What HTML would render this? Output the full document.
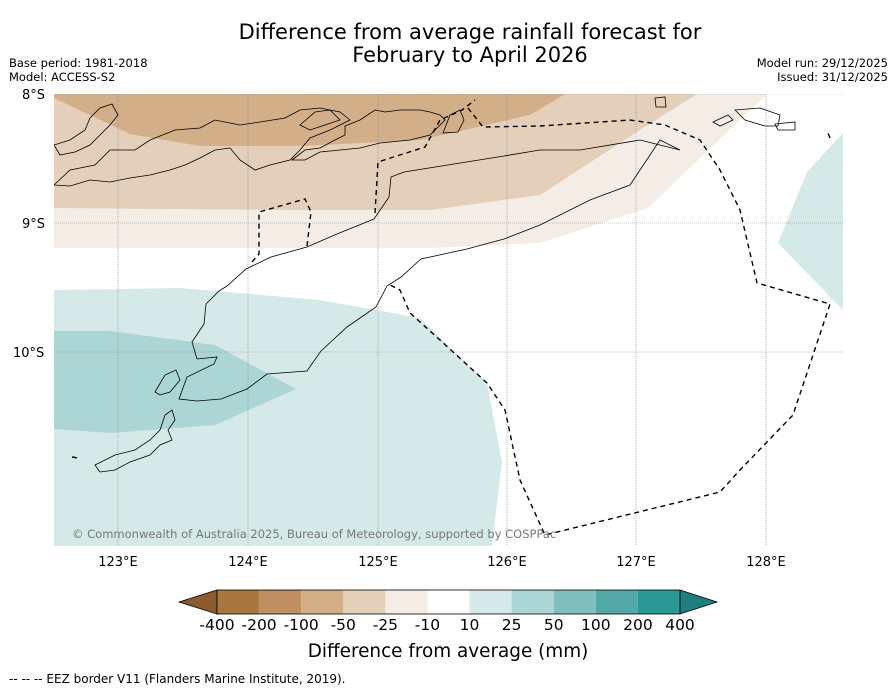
<!DOCTYPE html>
<html><head><meta charset="utf-8"><style>
body{margin:0;background:#fff;}
svg{display:block;font-family:"DejaVu Sans","Liberation Sans",sans-serif;}
</style></head><body>
<svg id="c" width="896" height="690" viewBox="0 0 896 690">
<text x="470" y="39" text-anchor="middle" font-size="21">Difference from average rainfall forecast for</text>
<text x="470" y="62" text-anchor="middle" font-size="21">February to April 2026</text>
<text x="9" y="67" font-size="11.5">Base period: 1981-2018</text>
<text x="9" y="81" font-size="11.5">Model: ACCESS-S2</text>
<text x="888" y="67" font-size="11.5" text-anchor="end">Model run: 29/12/2025</text>
<text x="888" y="81" font-size="11.5" text-anchor="end">Issued: 31/12/2025</text>
<defs><clipPath id="mc"><rect x="54" y="94" width="789" height="452"/></clipPath></defs>
<g clip-path="url(#mc)">
<polygon fill="#f3ede6" points="54,94 767,94 648,208 540,243 430,248 54,248"/>
<polygon fill="#e3cfba" points="54,94 697,94 640,130 540,195 430,210 300,210 54,208"/>
<polygon fill="#d2ae89" points="54,94 565,94 530,115 420,140 300,146 200,146 130,134 54,98"/>
<polygon fill="#d5e9e8" points="54,290 180,288 320,300 420,318 487,383 502,462 492,546 54,546"/>
<polygon fill="#d5e9e8" points="843,133 807,172 778,243 843,310"/>
<polygon fill="#acd6d6" points="54,331 110,331 215,345 296,389 215,425 110,433 54,429"/>
<g stroke="#888" stroke-width="0.6" stroke-dasharray="1,1">
<line x1="118" y1="94" x2="118" y2="546"/><line x1="248" y1="94" x2="248" y2="546"/><line x1="378" y1="94" x2="378" y2="546"/><line x1="507" y1="94" x2="507" y2="546"/><line x1="636" y1="94" x2="636" y2="546"/><line x1="766" y1="94" x2="766" y2="546"/>
<line x1="54" y1="94" x2="843" y2="94"/><line x1="54" y1="223" x2="843" y2="223"/><line x1="54" y1="352" x2="843" y2="352"/>
</g>
<g fill="none" stroke="#000" stroke-width="0.8">
<path d="M504,156 L454,164 L404,172 L391,177 L389,197 L374,219 L337,234 L307,247 L271,257 L246,269 L227,286 L219,291 L206,304 L204,324 L192,342 L197,359 L217,357 L214,364 L187,377 L179,399 L197,401 L221,399 L247,389 L267,374 L307,371 L321,351 L347,327 L376,307 L387,286 L401,277 L421,259 L467,249 L504,239 L540,225 L590,200 L630,185 L660,140 L680,150 L640,140 L580,150 L540,150 L504,156"/>
<path d="M54,185 L70,170 L95,165 L110,150 L135,150 L150,140 L175,130 L200,128 L215,120 L240,125 L260,122 L285,118 L300,110 L320,108 L340,112 L350,120 L330,130 L310,138 L300,150 L290,160 L270,165 L255,170 L240,160 L230,148 L215,150 L200,158 L185,165 L170,170 L150,175 L130,178 L110,182 L90,180 L70,186 Z"/>
<path d="M54,145 L70,140 L85,130 L90,118 L100,108 L112,104 L118,115 L110,125 L100,135 L90,145 L75,152 L60,155 Z"/>
<path d="M300,125 L315,112 L330,110 L340,120 L325,125 L310,130 Z"/>
<path d="M292,160 L305,150 L320,148 L335,140 L345,135 L345,126 L360,120 L375,110 L385,112 L400,110 L420,110 L430,112 L440,115 L445,120 L430,135 L410,140 L380,143 L360,148 L340,150 L320,152 L305,160 Z"/>
<path d="M443,133 L450,115 L460,110 L464,120 L458,132 Z"/>
<path d="M655,98 L665,97 L666,107 L656,107 Z"/>
<path d="M735,110 L760,108 L780,115 L778,126 L765,126 L745,120 Z"/>
<path d="M775,124 L795,122 L795,130 L778,130 Z"/>
<path d="M713,122 L728,115 L733,120 L720,126 Z"/>
<path d="M155,392 L165,375 L176,370 L180,380 L170,392 L160,395 Z"/>
<path d="M95,465 L115,455 L135,450 L150,440 L160,430 L165,415 L172,410 L175,420 L168,430 L172,440 L160,445 L150,455 L130,462 L115,470 L100,472 Z"/>
</g>
<g fill="none" stroke="#000" stroke-width="1.4" stroke-dasharray="5,4">
<path d="M252,262 L259,254 L259,212 L305,199 L311,212 L307,246"/>
<path d="M375,213 L378,162 L425,147 L440,120 L462,110 L475,100 M468,108 L483,127 L540,126 L630,120 L665,125 L700,140 L720,170 L740,210 L757,283 L830,304 L793,415 L740,470 L720,492 L545,535 L520,480 L505,410 L487,383 L440,340 L410,313 L400,290 L390,285"/>
<path d="M830,138 L828,133"/>
<path d="M72,457 L78,458"/>
</g>
<text x="72" y="538" font-size="11.5" fill="#777">© Commonwealth of Australia 2025, Bureau of Meteorology, supported by COSPPac</text>
</g>
<g font-size="13">
<text x="22" y="99">8°S</text>
<text x="22" y="228">9°S</text>
<text x="13" y="357">10°S</text>
<text x="118" y="566" text-anchor="middle">123°E</text>
<text x="248" y="566" text-anchor="middle">124°E</text>
<text x="378" y="566" text-anchor="middle">125°E</text>
<text x="507" y="566" text-anchor="middle">126°E</text>
<text x="636" y="566" text-anchor="middle">127°E</text>
<text x="766" y="566" text-anchor="middle">128°E</text>
</g>
<g id="cb"></g>
<text x="448" y="657" text-anchor="middle" font-size="18.4">Difference from average (mm)</text>
<text x="9" y="683" font-size="12">--  --  -- EEZ border V11 (Flanders Marine Institute, 2019).</text>
</svg>
<script>
const levels=["-400","-200","-100","-50","-25","-10","10","25","50","100","200","400"];
const colors=["#a87640","#bf8f63","#d2ae89","#e3cfba","#f3ede6","#ffffff","#d5e9e8","#acd6d6","#80bfbd","#54a9a7","#2c9896"];
const ns="http://www.w3.org/2000/svg";
const g=document.getElementById('cb');
const x0=217,x1=680,y0=590,h=24,w=(x1-x0)/colors.length;
function mk(t,a){const e=document.createElementNS(ns,t);for(const k in a)e.setAttribute(k,a[k]);g.appendChild(e);return e;}
const lt=mk('polygon',{points:`${x0},${y0} ${x0-38},${y0+h/2} ${x0},${y0+h}`,fill:'#8d5a2c',stroke:'#000','stroke-width':0.8});


const rt=mk('polygon',{points:`${x1},${y0} ${x1+37},${y0+h/2} ${x1},${y0+h}`,fill:'#1f7f7e',stroke:'#000','stroke-width':0.8});


colors.forEach((c,i)=>{
 const r=mk('rect',{x:x0+i*w,y:y0,width:w,height:h,fill:c});
 
 
});
const bd=mk('rect',{x:x0,y:y0,width:x1-x0,height:h,fill:'none',stroke:'#000','stroke-width':0.8});


levels.forEach((l,i)=>{
 const t=mk('text',{x:x0+i*w,y:630,'text-anchor':'middle','font-size':15.5});
 t.textContent=l;
 
 
});
</script>
</body></html>
